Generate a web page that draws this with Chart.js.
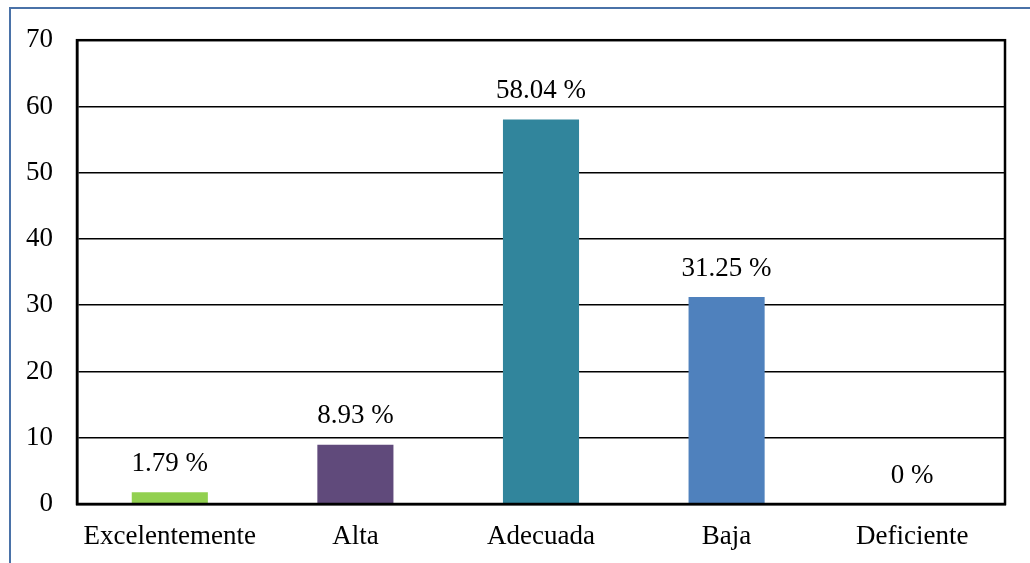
<!DOCTYPE html>
<html>
<head>
<meta charset="utf-8">
<script src="https://cdn.jsdelivr.net/npm/chart.js@4/dist/chart.umd.min.js"></script>
<style>
  html, body { margin: 0; padding: 0; background: #fff; overflow: hidden; width: 1030px; height: 563px; }
  #frame { position: absolute; left: 9px; top: 7px; width: 1100px; height: 700px; border: 2px solid #4a72a8; box-sizing: border-box; }
  canvas { position: absolute; left: 0; top: 0; }
</style>
</head>
<body>
<div id="frame"></div>
<canvas id="c" width="1030" height="563"></canvas>
<script>
const categories = ['Excelentemente', 'Alta', 'Adecuada', 'Baja', 'Deficiente'];
const values = [1.79, 8.93, 58.04, 31.25, 0];
const barColors = ['#92D050', '#604A7B', '#31859C', '#4F81BD', '#C0504D'];
const yTicks = [0, 10, 20, 30, 40, 50, 60, 70];

const FONT = { family: "'Liberation Serif', 'Times New Roman', serif", size: 27 };

const valueLabels = {
  id: 'valueLabels',
  afterDatasetsDraw(chart) {
    const ctx = chart.ctx;
    const meta = chart.getDatasetMeta(0);
    ctx.save();
    ctx.font = FONT.size + 'px ' + FONT.family;
    ctx.fillStyle = '#000';
    ctx.textAlign = 'center';
    ctx.textBaseline = 'bottom';
    meta.data.forEach((bar, i) => {
      ctx.fillText(String(values[i]) + ' %', bar.x, bar.y - 15);
    });
    ctx.restore();
  }
};

const plotBorder = {
  id: 'plotBorder',
  afterDraw(chart) {
    const a = chart.chartArea;
    const ctx = chart.ctx;
    ctx.save();
    ctx.strokeStyle = '#000';
    ctx.lineWidth = 2.5;
    ctx.strokeRect(a.left, a.top, a.right - a.left, a.bottom - a.top);
    ctx.restore();
  }
};

new Chart(document.getElementById('c'), {
  type: 'bar',
  data: {
    labels: categories,
    datasets: [{
      data: values,
      backgroundColor: barColors,
      borderWidth: 0,
      categoryPercentage: 1,
      barPercentage: 0.41
    }]
  },
  options: {
    responsive: false,
    animation: false,
    devicePixelRatio: 1,
    layout: { padding: { top: 38, right: 25, left: 0, bottom: 0 } },
    plugins: { legend: { display: false }, tooltip: { enabled: false } },
    scales: {
      x: {
        grid: { display: false, drawTicks: false },
        border: { display: true, color: '#000', width: 2.5 },
        ticks: { color: '#000', font: FONT, padding: 17, maxRotation: 0, autoSkip: false },
        afterFit(scale) { scale.height = 59; }
      },
      y: {
        min: 0,
        max: 70,
        afterBuildTicks(scale) { scale.ticks = yTicks.map(v => ({ value: v })); },
        grid: { color: '#000', lineWidth: 1.5, drawTicks: false },
        border: { display: true, color: '#000', width: 2.5 },
        ticks: { color: '#000', font: FONT, padding: 24 },
        afterFit(scale) { scale.width = 77; }
      }
    }
  },
  plugins: [valueLabels, plotBorder]
});
</script>
</body>
</html>
